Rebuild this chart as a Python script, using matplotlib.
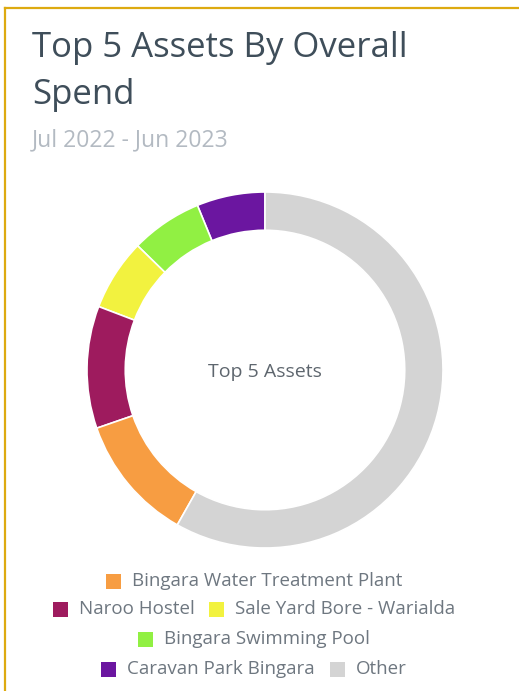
import matplotlib
matplotlib.use("Agg")
from matplotlib import pyplot as plt
from matplotlib.patches import Rectangle
from matplotlib.lines import Line2D

W, H = 519, 691

labels = ["Bingara Water Treatment Plant", "Naroo Hostel", "Sale Yard Bore - Warialda",
          "Bingara Swimming Pool", "Caravan Park Bingara", "Other"]
shares = [11.5, 11.1, 6.5, 6.5, 6.2, 58.2]
colors = ["#F79D42", "#9E1B5E", "#F2F23F", "#91F043", "#6B16A0", "#D4D4D4"]
legend_rows = [[0], [1, 2], [3], [4, 5]]

plt.rcParams['font.family'] = ['Open Sans', 'DejaVu Sans']

fig = plt.figure(figsize=(W / 100, H / 100), dpi=100)

def fx(px):
    return px / W

def fy(py):
    return 1 - py / H

# gold panel border
fig.add_artist(Line2D([fx(5), fx(5)], [fy(8), 0], color="#DDAA10", lw=1.6))
fig.add_artist(Line2D([fx(5), 1], [fy(8), fy(8)], color="#DDAA10", lw=1.6))

fig.text(fx(32), fy(57), "Top 5 Assets By Overall", fontsize=25, color="#3F4E5A", va="baseline")
fig.text(fx(32), fy(104), "Spend", fontsize=25, color="#3F4E5A", va="baseline")
fig.text(fx(32), fy(146), "Jul 2022 - Jun 2023", fontsize=16.5, color="#B3BAC2", va="baseline")

# donut
cx, cy, r = 265, 370, 178
ax = fig.add_axes([fx(cx - r), fy(cy + r), 2 * r / W, 2 * r / H])
draw_order = [4, 3, 2, 1, 0, 5]
ax.pie([shares[i] for i in draw_order], colors=[colors[i] for i in draw_order],
       startangle=90, counterclock=True, radius=1,
       wedgeprops=dict(width=0.215, edgecolor="white", linewidth=1.2))
ax.set_xlim(-1, 1)
ax.set_ylim(-1, 1)
ax.set_aspect("equal")
ax.axis("off")
ax.text(0, -0.01, "Top 5 Assets", ha="center", va="center", fontsize=14, color="#5E666E")

# legend rows, centred
renderer = fig.canvas.get_renderer()
row_y = [581, 609, 639, 669]
sq, gap_txt, gap_item = 15, 11, 15
legend_cx = 254
for row, yy in zip(legend_rows, row_y):
    texts = []
    widths = []
    for i in row:
        t = fig.text(0, fy(yy), labels[i], fontsize=13.5, color="#6E7780", va="center")
        widths.append(t.get_window_extent(renderer).width)
        texts.append(t)
    total = sum(sq + gap_txt + w for w in widths) + gap_item * (len(row) - 1)
    x = legend_cx - total / 2
    for i, t, w in zip(row, texts, widths):
        fig.add_artist(Rectangle((fx(x), fy(yy + sq / 2)), sq / W, sq / H,
                                 facecolor=colors[i], edgecolor="none"))
        t.set_x(fx(x + sq + gap_txt))
        x += sq + gap_txt + w + gap_item

fig.savefig("out.png", dpi=100)
